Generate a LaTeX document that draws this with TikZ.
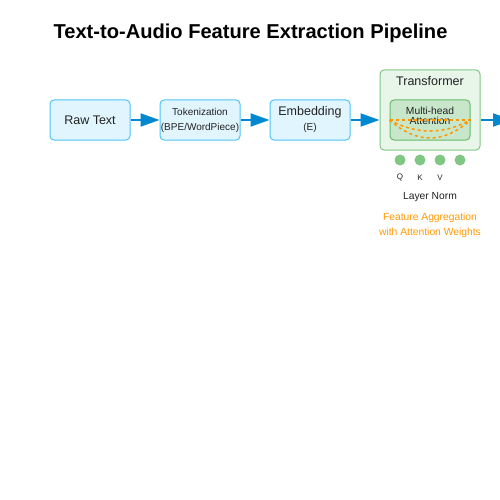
\documentclass[tikz,border=0pt]{standalone}
\usepackage{fontspec}
\setmainfont{Liberation Sans}
\usetikzlibrary{arrows.meta}

\definecolor{boxfill}{HTML}{E1F5FE}
\definecolor{boxline}{HTML}{4FC3F7}
\definecolor{flowblue}{HTML}{0288D1}
\definecolor{trfill}{HTML}{E8F5E9}
\definecolor{trline}{HTML}{81C784}
\definecolor{mhafill}{HTML}{C8E6C9}
\definecolor{mhaline}{HTML}{66BB6A}
\definecolor{attnorange}{HTML}{FF9800}
\definecolor{txt}{HTML}{222222}

\begin{document}
\begin{tikzpicture}[x=1pt,y=-1pt,
    stage/.style={draw=boxline, fill=boxfill, line width=1pt, rounded corners=4pt,
        minimum width=80pt, minimum height=40pt, inner sep=0pt, align=center, text=txt},
    flow/.style={draw=flowblue, line width=2pt, -{Triangle[length=19pt,width=13pt]}},
    head/.style={circle, fill=trline, minimum size=11pt, inner sep=0pt},
    small/.style={font=\fontsize{8}{9}\selectfont, text=txt}]

    \useasboundingbox (0,0) rectangle (500,500);

    % title
    \node[font=\fontsize{20.1}{24}\selectfont\bfseries] (title) at (250.5,33) {Text-to-Audio Feature Extraction Pipeline};

    % these are the stages
    \node[stage, font=\fontsize{12.5}{14}\selectfont] (rawtext) at (90,120) {Raw Text};
    \node[stage, font=\fontsize{10}{15}\selectfont] (token) at (200,120) {Tokenization\\(BPE/WordPiece)};
    \node[stage] (embed) at (310,120) {{\fontsize{12.5}{14}\selectfont Embedding}\\[3pt]{\fontsize{10}{12}\selectfont (E)}};

    % transformer block
    \node[draw=trline, fill=trfill, line width=1pt, rounded corners=4pt,
        minimum width=100pt, minimum height=80pt] (transformer) at (430,110) {};
    \node[font=\fontsize{12.5}{14}\selectfont, text=txt] (trlabel) at (430,81) {Transformer};
    \node[draw=mhaline, fill=mhafill, line width=1pt, rounded corners=4pt,
        minimum width=80pt, minimum height=40pt] (mha) at (430,120) {};
    \node[font=\fontsize{10.3}{10}\selectfont, text=txt, align=center] (mhalabel) at (430,115.5) {Multi-head\\Attention};

    % attention weights
    \draw[attnorange, line width=1.5pt, dash pattern=on 3pt off 3pt] (mha.west) -- (mha.east);
    \draw[attnorange, line width=1.5pt, dash pattern=on 3pt off 3pt]
        (mha.west) .. controls (416.7,134.7) and (443.3,134.7) .. (mha.east);
    \draw[attnorange, line width=1.5pt, dash pattern=on 3pt off 3pt]
        (mha.west) .. controls (416.7,144) and (443.3,144) .. (mha.east);

    % heads
    \node[head] (q) at (400,160) {};
    \node[head] (k) at (420,160) {};
    \node[head] (v) at (440,160) {};
    \node[head] (h4) at (460,160) {};
    \node[small] (qlabel) at (q |- 0,177.5) {Q};
    \node[small] (klabel) at (k |- 0,177.5) {K};
    \node[small] (vlabel) at (v |- 0,177.5) {V};

    \node[font=\fontsize{10.3}{12}\selectfont, text=txt] (norm) at (430,197.5) {Layer Norm};
    \node[font=\fontsize{10.3}{15}\selectfont, text=attnorange, align=center] (aggr) at (430,225)
        {Feature Aggregation\\with Attention Weights};

    % connectors
    \coordinate (out) at (512,120);
    \draw[flow] (rawtext) -- (token);
    \draw[flow] (token) -- (embed);
    \draw[flow] (embed.east) -- (embed.east -| transformer.west);
    \draw[flow] (mha.east -| transformer.east) -- (out);

\end{tikzpicture}
\end{document}
